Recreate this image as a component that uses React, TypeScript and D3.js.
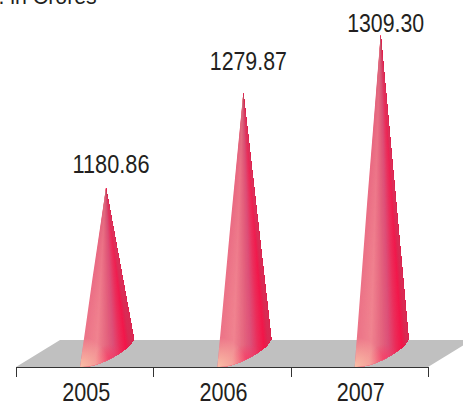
import React from "react";
import * as d3 from "d3";

const years = ["2005", "2006", "2007"];
const totals = [1180.86, 1279.87, 1309.3];
const totalLabels = ["1180.86", "1279.87", "1309.30"];
const unitCaption = "Rs. in Crores";

const WIDTH = 463;
const HEIGHT = 402;
const AXIS_Y = 367;
const FLOOR_BACK_Y = 340;
const FLOOR_DEPTH_X = 44;
const STRIPS = 80;
const LABEL_FONT = "'Liberation Sans', Arial, sans-serif";

const x = d3.scaleBand<string>().domain(years).range([16, 428]);
// The value axis is hand-drawn in this exhibit, so it is anchored at each year's total.
const y = d3.scaleLinear().domain(totals).range([188, 93, 35]);
const labelY = d3.scaleLinear().domain(totals).range([173, 70, 32]);

// Surface colour across the cone, from its lit left side to its shaded right side.
const shade = d3
  .scaleLinear<string>()
  .domain([0, 0.28, 0.48, 0.63, 0.78, 0.9, 1])
  .range(["#ec7488", "#f08490", "#e4667f", "#dc4f78", "#ec2a58", "#f21448", "#d42a52"])
  .interpolate(d3.interpolateRgb);

// Lower rim of the cone, measured from the band's left edge and the axis line.
const rimX = [64, 66, 79, 92, 105.7, 114, 118];
const rimRise = [0, 0, 2, 7, 15.3, 22, 27.7];
const rimAt = d3.scaleLinear().domain(rimX).range(rimRise);
const baseT = d3.scaleLinear().domain([0, 1]).range([rimX[0], rimX[rimX.length - 1]]);

function Cone({ year, total, index }: { year: string; total: number; index: number }) {
  const left = x(year)!;
  const tipX = left + 90;
  const tipY = y(total);
  const baseX = left + baseT(0);
  const midY = (tipY + AXIS_Y) / 2;
  const midX = (baseX + tipX) / 2 - 0.8;

  const rimPath = d3
    .line<number>()
    .x((px) => left + px)
    .y((px) => AXIS_Y - rimAt(px))
    .curve(d3.curveMonotoneX)(rimX) ?? "";
  const outline =
    `M${tipX},${tipY} Q${midX},${midY} ${baseX},${AXIS_Y} ` +
    rimPath.replace(/^M[^C]*/, "") +
    ` L${tipX},${tipY} Z`;

  // Each wedge runs from its own edge through to the far side, so later wedges
  // paint over earlier ones and no seams show between them.
  const farX = left + baseT(1) + 30;
  const wedges = d3.range(STRIPS).map((i) => {
    const t = i / STRIPS;
    const edgeX = i === 0 ? baseX - 30 : left + baseT(t);
    return (
      <path
        key={i}
        d={`M${tipX},${tipY - 2} L${edgeX},${AXIS_Y + 6} L${farX},${AXIS_Y + 6} Z`}
        fill={shade(t)}
      />
    );
  });

  const clipId = `cone-clip-${index}`;
  const fadeId = `cone-fade-${index}`;
  const peachId = `cone-peach-${index}`;
  const glowId = `cone-glow-${index}`;
  return (
    <g>
      <defs>
        <clipPath id={clipId}>
          <path d={outline} />
        </clipPath>
        <linearGradient id={fadeId} x1="0" y1="0" x2="0" y2="1">
          <stop offset="0" stopColor="#96706a" stopOpacity={0.85} />
          <stop offset="0.06" stopColor="#c8506c" stopOpacity={0.55} />
          <stop offset="0.3" stopColor="#e04a70" stopOpacity={0.3} />
          <stop offset="0.65" stopColor="#e8507a" stopOpacity={0.08} />
          <stop offset="1" stopColor="#ff8a90" stopOpacity={0} />
        </linearGradient>
        <radialGradient
          id={peachId}
          gradientUnits="userSpaceOnUse"
          cx={baseX}
          cy={AXIS_Y}
          r={30}
        >
          <stop offset="0" stopColor="#fbc4a8" stopOpacity={0.95} />
          <stop offset="1" stopColor="#fbc4a8" stopOpacity={0} />
        </radialGradient>
        <radialGradient
          id={glowId}
          gradientUnits="userSpaceOnUse"
          cx={left + 94}
          cy={AXIS_Y - 7}
          r={16}
        >
          <stop offset="0" stopColor="#ff3460" stopOpacity={0.7} />
          <stop offset="1" stopColor="#ff3460" stopOpacity={0} />
        </radialGradient>
      </defs>
      <g clipPath={`url(#${clipId})`}>
        {wedges}
        <path d={outline} fill={`url(#${fadeId})`} />
        <path d={outline} fill={`url(#${glowId})`} />
        <path d={outline} fill={`url(#${peachId})`} />
      </g>
    </g>
  );
}

export default function App() {
  const [x0, x1] = x.range();
  const ticks = [...years.map((d) => x(d)!), x1];
  return (
    <svg
      width={WIDTH}
      height={HEIGHT}
      viewBox={`0 0 ${WIDTH} ${HEIGHT}`}
      style={{ position: "absolute", left: 0, top: 0, background: "#fff" }}
    >
      <text x={-27.5} y={3.5} fontFamily={LABEL_FONT} fontSize={21.3} fill="#231f20">
        {unitCaption}
      </text>
      <path
        d={`M${x0},${AXIS_Y} L${x0 + FLOOR_DEPTH_X},${FLOOR_BACK_Y} L${x1 + FLOOR_DEPTH_X},${FLOOR_BACK_Y} L${x1},${AXIS_Y} Z`}
        fill="#c0c0c0"
      />
      {years.map((d, i) => (
        <Cone key={d} year={d} total={totals[i]} index={i} />
      ))}
      <line x1={x0} x2={x1} y1={AXIS_Y + 0.5} y2={AXIS_Y + 0.5} stroke="#333" strokeWidth={1} />
      {ticks.map((t) => (
        <line key={t} x1={Math.round(t) + 0.5} x2={Math.round(t) + 0.5} y1={AXIS_Y} y2={AXIS_Y + 10} stroke="#333" />
      ))}
      {years.map((d) => (
        <text
          key={d}
          x={x(d)! + x.bandwidth() / 2 + 1.5}
          y={401}
          textAnchor="middle"
          fontFamily={LABEL_FONT}
          fontSize={26}
          textLength={48}
          lengthAdjust="spacingAndGlyphs"
          fill="#231f20"
        >
          {d}
        </text>
      ))}
      {years.map((d, i) => (
        <text
          key={d}
          x={x(d)! + 95}
          y={labelY(totals[i])}
          textAnchor="middle"
          fontFamily={LABEL_FONT}
          fontSize={26}
          textLength={77}
          lengthAdjust="spacingAndGlyphs"
          fill="#231f20"
        >
          {totalLabels[i]}
        </text>
      ))}
    </svg>
  );
}
